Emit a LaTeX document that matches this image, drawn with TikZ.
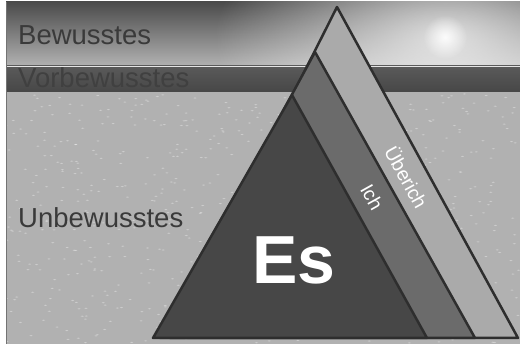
\documentclass[tikz,border=0pt]{standalone}
\usepackage{fontspec}
\setmainfont{Liberation Sans}
\usetikzlibrary{fadings}
\definecolor{skytop}{HTML}{4B4B4B}
\definecolor{skylow}{HTML}{B2B2B2}
\definecolor{bandtop}{HTML}{5A5A5A}
\definecolor{bandlow}{HTML}{474747}
\definecolor{ground}{HTML}{B1B1B1}
\definecolor{rim}{HTML}{2E2E2E}
\definecolor{esfill}{HTML}{474747}
\definecolor{ichfill}{HTML}{6B6B6B}
\definecolor{uberfill}{HTML}{AAAAAA}
\definecolor{labelgray}{HTML}{3A3A3A}
\tikzfading[name=sunglow,inner color=transparent!0,outer color=transparent!100]
\tikzstyle{layer}=[draw=rim,line width=2.5pt,line join=round]
\tikzstyle{zone}=[font=\fontsize{27.5}{30}\selectfont,text=labelgray,anchor=base west,inner sep=0pt]
\tikzstyle{band}=[font=\fontsize{19.5}{21}\selectfont,text=white,inner sep=0pt]

\begin{document}
\begin{tikzpicture}[x=1pt,y=-1pt]
  \useasboundingbox (0,0) rectangle (520,344);
  % sky with sun
  \begin{scope}
    \clip (6,2) rectangle (520,66);
    \shade[top color=skytop,bottom color=skylow] (6,2) rectangle (520,66);
    \fill[white,opacity=.75,path fading=sunglow] (445,37) ellipse (230 and 130);
    \fill[white,opacity=.9,path fading=sunglow] (445,37) circle (22);
  \end{scope}
  % preconscious band and ground
  \shade[top color=bandtop,bottom color=bandlow] (6,66) rectangle (520,92);
  \draw[white!80!gray,line width=.8pt] (6,66) -- (520,66);
  \draw[black!70,line width=.8pt] (6,92) -- (520,92);
  \fill[ground] (6,92.4) rectangle (520,344);
  % grainy texture
  \pgfmathsetseed{7}
  \foreach \k in {1,...,700}
    \fill[white,opacity=.35] (6+514*rnd,93+250*rnd) ellipse (1.6 and .6);
  \draw[black!55,line width=.8pt] (6.4,2) -- (6.4,344);
  % the three layers
  \filldraw[layer,fill=uberfill] (337,7) -- (518,338) -- (170,338) -- cycle;
  \filldraw[layer,fill=ichfill] (315,52) -- (475,338) -- (160,338) -- cycle;
  \filldraw[layer,fill=esfill] (292,95) -- (427,338) -- (153,338) -- cycle;
  % labels
  \node[zone] (bewusst) at (18,45) {Bewusstes};
  \node[zone,text=black!75] (vorbewusst) at (18,88) {Vorbewusstes};
  \node[zone] (unbewusst) at (18,228) {Unbewusstes};
  \node[font=\bfseries\fontsize{68}{70}\selectfont,text=white,inner sep=0pt] (es) at (294,260) {Es};
  \node[band,rotate=-60.8] (ich) at (372,197) {Ich};
  \node[band,rotate=-61] (uber) at (407,177) {Überich};
\end{tikzpicture}
\end{document}
